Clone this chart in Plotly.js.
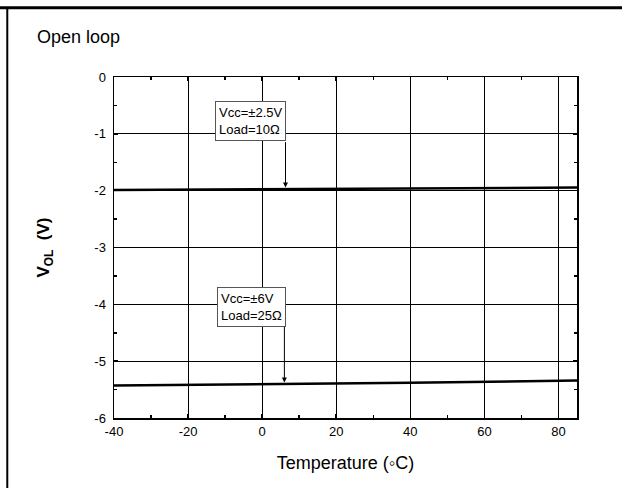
<!DOCTYPE html>
<html>
<head>
<meta charset="utf-8">
<script src="https://cdn.plot.ly/plotly-3.0.1.min.js"></script>
<style>html,body{margin:0;padding:0;background:#fff;}#chart{width:622px;height:488px;}</style>
</head>
<body>
<div id="chart"></div>
<script>
// Data
var temperature = [-40, 0, 40, 85];
var vol_25V_10ohm = [-1.99, -1.975, -1.96, -1.945];
var vol_6V_25ohm = [-5.43, -5.41, -5.38, -5.34];
var xTicks = [-40, -20, 0, 20, 40, 60, 80];
var yTicks = [-6, -5, -4, -3, -2, -1, 0];
var label1 = "Vcc=±2.5V<br>Load=10Ω";
var label2 = "Vcc=±6V<br>Load=25Ω";

var lineStyle = {color: '#000', width: 2.5};
var traces = [
  {x: temperature, y: vol_25V_10ohm, mode: 'lines', line: lineStyle, showlegend: false, hoverinfo: 'skip'},
  {x: temperature, y: vol_6V_25ohm, mode: 'lines', line: lineStyle, showlegend: false, hoverinfo: 'skip'}
];

function lineAt(xs, ys, x) {
  for (var i = 0; i < xs.length - 1; i++) {
    if (x >= xs[i] && x <= xs[i+1]) {
      return ys[i] + (ys[i+1] - ys[i]) * (x - xs[i]) / (xs[i+1] - xs[i]);
    }
  }
  return ys[ys.length-1];
}

var boxFont = {family: 'Liberation Sans, Arial, sans-serif', size: 13, color: '#000'};
var annotations = [
  {xref: 'x', yref: 'y', x: -3.2, y: -0.78, text: label1, showarrow: false, align: 'left',
   font: boxFont, bgcolor: '#fff', bordercolor: '#555', borderwidth: 1, borderpad: 3},
  {xref: 'x', yref: 'y', x: -2.9, y: -4.04, text: label2, showarrow: false, align: 'left',
   font: boxFont, bgcolor: '#fff', bordercolor: '#555', borderwidth: 1, borderpad: 3},
  {xref: 'x', yref: 'y', x: 6.3, y: lineAt(temperature, vol_25V_10ohm, 6.3) + 0.03, axref: 'x', ayref: 'y',
   ax: 6.3, ay: -1.12, text: '', showarrow: true, arrowhead: 2, arrowsize: 1, arrowwidth: 1, arrowcolor: '#000'},
  {xref: 'x', yref: 'y', x: 6.0, y: lineAt(temperature, vol_6V_25ohm, 6.0) + 0.03, axref: 'x', ayref: 'y',
   ax: 6.0, ay: -4.37, text: '', showarrow: true, arrowhead: 2, arrowsize: 1, arrowwidth: 1, arrowcolor: '#000'},
  {xref: 'paper', yref: 'paper', x: -0.17, y: 1.117, xanchor: 'left', yanchor: 'middle',
   text: 'Open loop', showarrow: false, font: {family: 'Liberation Sans, Arial, sans-serif', size: 18, color: '#000'}},
  {xref: 'paper', yref: 'paper', x: -0.225, y: 1.216, xanchor: 'left', yanchor: 'bottom',
   text: '<b>Figure 9.  V<sub>OL</sub> vs. temperature</b>', showarrow: false,
   font: {family: 'Liberation Sans, Arial, sans-serif', size: 18, color: '#000'}}
];

var shapes = [
  {type: 'line', xref: 'paper', yref: 'paper', x0: -0.3, x1: 1.2, y0: 1.203, y1: 1.203, line: {color: '#000', width: 3}},
  {type: 'line', xref: 'paper', yref: 'paper', x0: -0.2305, x1: -0.2305, y0: 1.203, y1: -0.3, line: {color: '#000', width: 2}}
];

var axisFont = {family: 'Liberation Sans, Arial, sans-serif', size: 13, color: '#000'};
var layout = {
  width: 622, height: 488,
  margin: {l: 114, r: 45, t: 77, b: 70},
  paper_bgcolor: '#fff', plot_bgcolor: '#fff',
  xaxis: {
    range: [-40, 85], tickvals: xTicks, ticktext: xTicks.map(String),
    showgrid: true, gridcolor: '#000', gridwidth: 1,
    showline: true, linecolor: '#000', linewidth: 1.5, mirror: 'ticks',
    ticks: 'inside', ticklen: 4, tickcolor: '#000', tickwidth: 1.5, ticklabelstandoff: 1,
    minor: {dtick: 10, ticks: 'inside', ticklen: 3, tickcolor: '#000', tickwidth: 1.5, showgrid: false},
    tickfont: axisFont, zeroline: false,
    title: {text: 'Temperature (◦C)', font: {family: 'Liberation Sans, Arial, sans-serif', size: 18, color: '#000'}, standoff: 18}
  },
  yaxis: {
    range: [-6, 0], tickvals: yTicks, ticktext: yTicks.map(String),
    showgrid: true, gridcolor: '#000', gridwidth: 1,
    showline: true, linecolor: '#000', linewidth: 1.5, mirror: 'ticks',
    ticks: 'inside', ticklen: 4, tickcolor: '#000', tickwidth: 1.5, ticklabelstandoff: 4,
    minor: {dtick: 0.5, ticks: 'inside', ticklen: 3, tickcolor: '#000', tickwidth: 1.5, showgrid: false},
    tickfont: axisFont, zeroline: false,
    title: {text: '<b>V<sub>OL</sub>  (V)</b>', font: {family: 'Liberation Sans, Arial, sans-serif', size: 17, color: '#000'}, standoff: 40}
  },
  annotations: annotations,
  shapes: shapes,
  showlegend: false
};

Plotly.newPlot('chart', traces, layout, {staticPlot: true, displayModeBar: false});
</script>
</body>
</html>
